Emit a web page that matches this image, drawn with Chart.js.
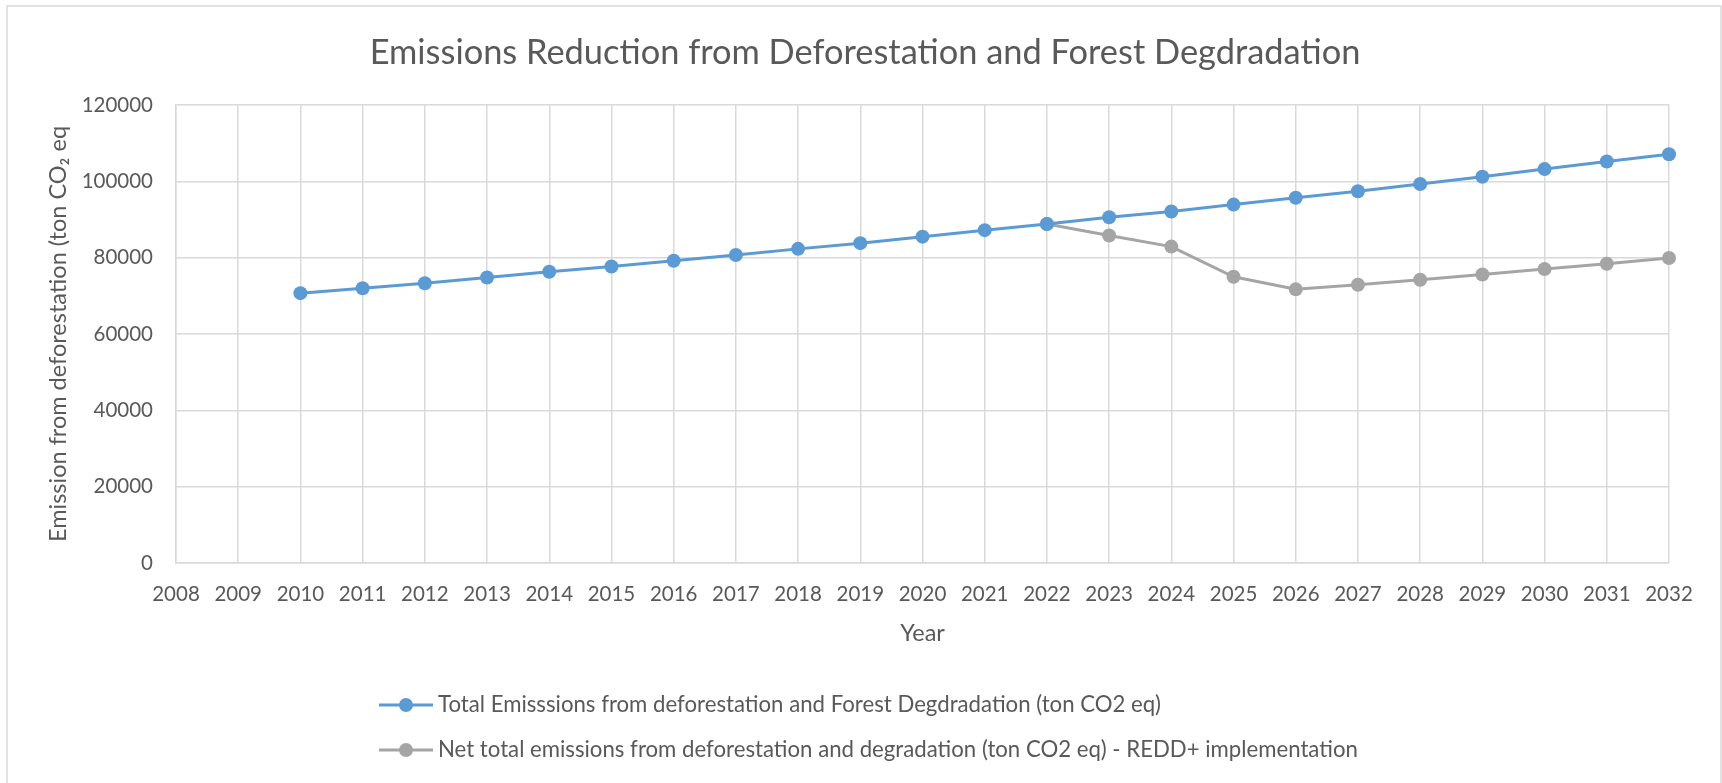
<!DOCTYPE html>
<html>
<head>
<meta charset="utf-8">
<script src="https://cdn.jsdelivr.net/npm/chart.js@4.4.1/dist/chart.umd.min.js"></script>
<style>
  html, body { margin: 0; padding: 0; background: #ffffff; }
  #wrap { width: 1722px; height: 783px; position: relative; }
</style>
</head>
<body>
<div id="wrap"><canvas id="c" width="1722" height="783"></canvas></div>
<script>
const years = ['2008','2009','2010','2011','2012','2013','2014','2015','2016','2017','2018','2019','2020','2021','2022','2023','2024','2025','2026','2027','2028','2029','2030','2031','2032'];
const totalEmissions = [null, null, 70700, 72000, 73300, 74800, 76300, 77700, 79200, 80700, 82300, 83800, 85500, 87200, 88800, 90600, 92100, 93900, 95700, 97400, 99300, 101200, 103200, 105200, 107100];
const netEmissions = [null, null, null, null, null, null, null, null, null, null, null, null, null, null, 88800, 85800, 82900, 75000, 71700, 72900, 74200, 75600, 77000, 78400, 79900];
const seriesLabels = [
  'Total Emisssions from deforestation and Forest Degdradation (ton CO2 eq)',
  'Net total emissions from deforestation and degradation (ton CO2 eq) - REDD+ implementation'
];
const titleText = 'Emissions Reduction from Deforestation and Forest Degdradation';
const yTitle = 'Emission from deforestation (ton CO\u2082 eq';
const xTitle = 'Year';

const FONT = 'Lato, "Open Sans", sans-serif';
const TXT = '#595959';
const GRID = '#d9d9d9';
const TICK = 20.5;
const LEG = 22.2;
const AXT = 23.5;

const frameAndLegend = {
  id: 'frameAndLegend',
  beforeDraw(chart) {
    const ctx = chart.ctx;
    ctx.save();
    ctx.fillStyle = '#ffffff';
    ctx.fillRect(0, 0, chart.width, chart.height);
    ctx.strokeStyle = GRID;
    ctx.lineWidth = 1.5;
    ctx.strokeRect(7, 6, chart.width - 8, chart.height + 20);
    ctx.restore();
  },
  afterDraw(chart) {
    const ctx = chart.ctx;
    const ca = chart.chartArea;
    ctx.save();
    chart.data.datasets.forEach((ds, i) => {
      const y = 705 + i * 45;
      const x0 = ca.left + 203;
      ctx.strokeStyle = ds.borderColor;
      ctx.lineWidth = 3;
      ctx.beginPath();
      ctx.moveTo(x0, y);
      ctx.lineTo(x0 + 54, y);
      ctx.stroke();
      ctx.fillStyle = ds.backgroundColor;
      ctx.beginPath();
      ctx.arc(x0 + 27, y, 7, 0, Math.PI * 2);
      ctx.fill();
      ctx.fillStyle = TXT;
      ctx.font = LEG + 'px ' + FONT;
      ctx.textAlign = 'left';
      ctx.textBaseline = 'middle';
      ctx.fillText(ds.label, x0 + 59, y);
    });
    ctx.restore();
  }
};

new Chart(document.getElementById('c'), {
  type: 'line',
  data: {
    labels: years,
    datasets: [
      {
        label: seriesLabels[0],
        data: totalEmissions,
        borderColor: '#5B9BD5',
        backgroundColor: '#5B9BD5',
        borderWidth: 3,
        pointRadius: 7,
        pointHoverRadius: 7,
        pointBorderWidth: 0,
        tension: 0
      },
      {
        label: seriesLabels[1],
        data: netEmissions,
        borderColor: '#A5A5A5',
        backgroundColor: '#A5A5A5',
        borderWidth: 3,
        pointRadius: 7,
        pointHoverRadius: 7,
        pointBorderWidth: 0,
        tension: 0
      }
    ]
  },
  options: {
    responsive: false,
    animation: false,
    devicePixelRatio: 1,
    layout: { padding: { top: 0, left: 61, right: 53, bottom: 120 } },
    plugins: {
      legend: { display: false },
      tooltip: { enabled: false },
      title: {
        display: true,
        text: titleText,
        color: TXT,
        font: { family: FONT, size: 34.4, weight: 'normal', lineHeight: 1.2 },
        padding: { top: 32, bottom: 31.7 }
      }
    },
    scales: {
      x: {
        type: 'category',
        offset: false,
        grid: { display: true, color: GRID, lineWidth: 1.5, drawTicks: false, offset: false },
        border: { display: true, color: GRID, width: 1.5 },
        ticks: { color: TXT, font: { family: FONT, size: TICK }, padding: 19, maxRotation: 0, autoSkip: false },
        title: { display: true, text: xTitle, color: TXT, font: { family: FONT, size: AXT, lineHeight: 1.2 }, padding: { top: 0, bottom: 15 } },
        afterFit(scale) { scale.height = 100; }
      },
      y: {
        min: 0,
        max: 120000,
        grid: { color: GRID, lineWidth: 1.5, drawTicks: false },
        border: { display: true, color: GRID, width: 1.5 },
        ticks: { stepSize: 20000, color: TXT, font: { family: FONT, size: TICK }, padding: 23,
                 callback: (v) => String(v) },
        title: { display: true, text: yTitle, color: TXT, font: { family: FONT, size: AXT, lineHeight: 1.2 }, padding: { top: -17.1, bottom: 0 } },
        afterFit(scale) { scale.width = 115; }
      }
    }
  },
  plugins: [frameAndLegend]
});
</script>
</body>
</html>
